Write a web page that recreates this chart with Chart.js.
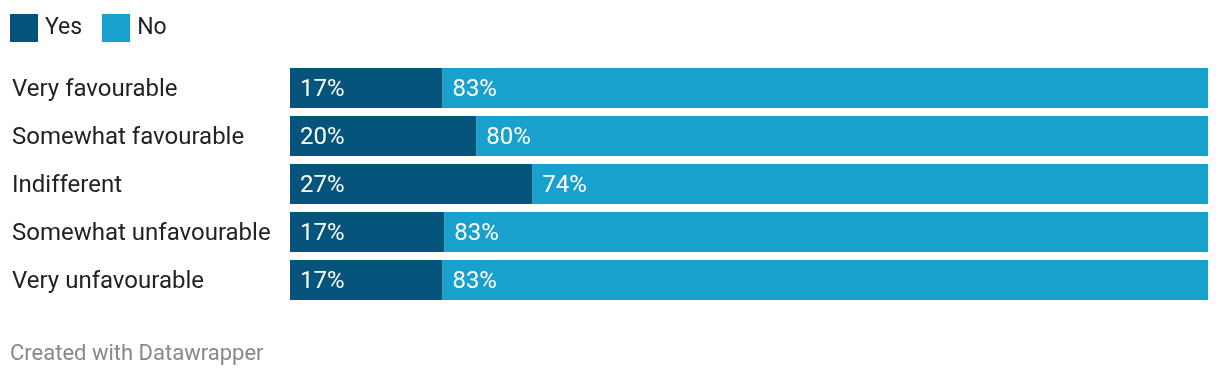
<!DOCTYPE html>
<html>
<head>
<meta charset="utf-8">
<script src="https://cdn.jsdelivr.net/npm/chart.js@4"></script>
<style>
    body { margin: 0; background: #fff; font-family: Roboto, sans-serif; }
    #wrap { position: relative; width: 1220px; height: 378px; }
    #chart { position: absolute; left: 0; top: 0; }
    .legend { position: absolute; top: 14px; left: 10px; display: flex; align-items: center; font-size: 23px; color: #222; }
    .legend .sw { width: 28px; height: 28px; margin-right: 7px; }
    .legend .item { display: flex; align-items: center; margin-right: 20px; }
    .legend span { position: relative; top: -2px; }
    #footer { position: absolute; left: 10px; top: 340px; font-size: 22px; color: #888; }
</style>
</head>
<body>
<div id="wrap">
    <canvas id="chart" width="1220" height="378"></canvas>
    <div class="legend" id="legend"></div>
    <div id="footer">Created with Datawrapper</div>
</div>
<script>
const categories = ["Very favourable", "Somewhat favourable", "Indifferent", "Somewhat unfavourable", "Very unfavourable"];
const seriesNames = ["Yes", "No"];
const yesValues = [16.6, 20.3, 26.4, 16.8, 16.6];
const noValues = [83.4, 79.7, 73.6, 83.2, 83.4];
const yesLabels = ["17%", "20%", "27%", "17%", "17%"];
const noLabels = ["83%", "80%", "74%", "83%", "83%"];
const COLORS = ["#04547c", "#18a1cd"];

// legend in plain html
const legend = document.getElementById("legend");
seriesNames.forEach((name, i) => {
    const item = document.createElement("div");
    item.className = "item";
    item.innerHTML = `<div class="sw" style="background:${COLORS[i]}"></div><span>${name}</span>`;
    legend.appendChild(item);
});

// category names on the left + value text at the left edge of each segment
const textLayer = {
    id: "textLayer",
    afterDatasetsDraw(chart) {
        const ctx = chart.ctx;
        const yScale = chart.scales.y;
        const texts = [yesLabels, noLabels];
        ctx.save();
        ctx.font = "24px Roboto";
        ctx.textBaseline = "alphabetic";
        ctx.textAlign = "left";

        ctx.fillStyle = "#222";
        chart.data.labels.forEach((label, i) => {
            ctx.fillText(label, 12, yScale.getPixelForValue(i) + 8);
        });

        ctx.fillStyle = "#fff";
        chart.data.datasets.forEach((ds, di) => {
            chart.getDatasetMeta(di).data.forEach((bar, i) => {
                ctx.fillText(texts[di][i], Math.min(bar.base, bar.x) + 10, bar.y + 8);
            });
        });
        ctx.restore();
    }
};

new Chart(document.getElementById("chart"), {
    type: "bar",
    data: {
        labels: categories,
        datasets: [
            { label: seriesNames[0], data: yesValues, backgroundColor: COLORS[0] },
            { label: seriesNames[1], data: noValues, backgroundColor: COLORS[1] }
        ]
    },
    options: {
        indexAxis: "y",
        responsive: false,
        animation: false,
        layout: { padding: { left: 12, right: 12, top: 64, bottom: 74 } },
        datasets: { bar: { categoryPercentage: 1, barPercentage: 40 / 48 } },
        plugins: { legend: { display: false }, tooltip: { enabled: false } },
        scales: {
            x: { stacked: true, min: 0, max: 100, display: false },
            y: {
                stacked: true,
                grid: { display: false },
                border: { display: false },
                ticks: { display: false },
                afterFit(axis) { axis.width = 278; }
            }
        }
    },
    plugins: [textLayer]
});
</script>
</body>
</html>
